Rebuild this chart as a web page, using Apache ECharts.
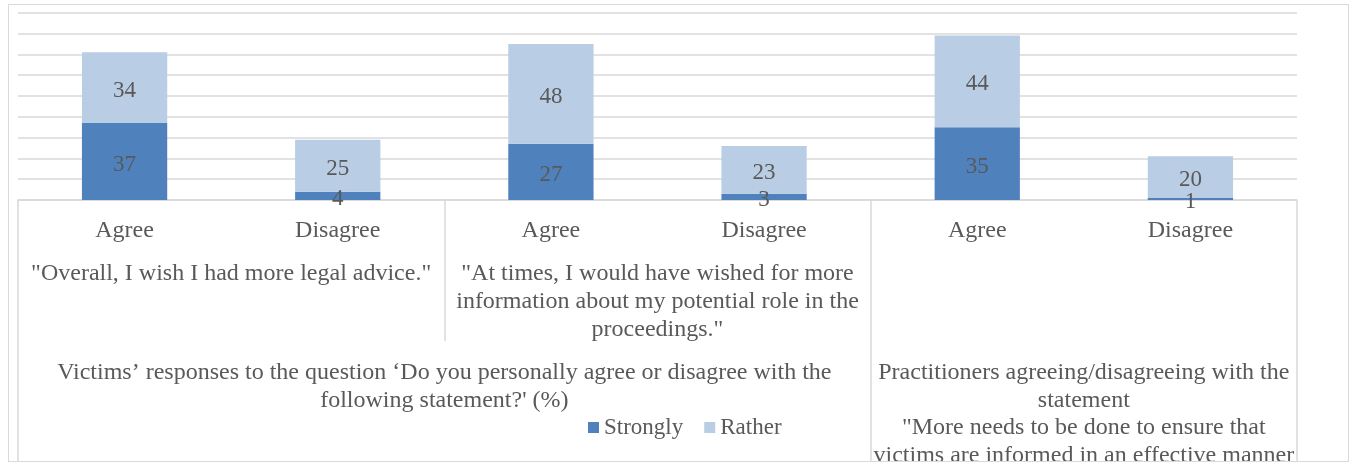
<!DOCTYPE html>
<html>
<head>
<meta charset="utf-8">
<script src="https://cdn.jsdelivr.net/npm/echarts@6/dist/echarts.min.js"></script>
<style>
  html, body { margin: 0; padding: 0; background: #fff; overflow: hidden; width: 100%; height: 100%; }
  #chart { position: absolute; left: 0; top: 0; width: 1349px; height: 463px; }
  #frame { position: absolute; left: 8px; top: 4px; right: 0px; bottom: 1px; border: 1px solid #d9d9d9; pointer-events: none; }
</style>
</head>
<body>
<div id="chart"></div>
<div id="frame"></div>
<script>
// ---- data ----
const categories = ['Agree', 'Disagree', 'Agree', 'Disagree', 'Agree', 'Disagree'];
const strongly = [37, 4, 27, 3, 35, 1];
const rather = [34, 25, 48, 23, 44, 20];
const statements = [
  '"Overall, I wish I had more legal advice."',
  '"At times, I would have wished for more\ninformation about my potential role in the\nproceedings."',
  ''
];
const groupLabels = [
  'Victims\u2019 responses to the question \u2018Do you personally agree or disagree with the\nfollowing statement?\' (%)',
  'Practitioners agreeing/disagreeing with the\nstatement\n"More needs to be done to ensure that\nvictims are informed in an effective manner'
];
const groupLabelAt = [2, 5];     // group centres, in category units
const groupBounds = [0, 4, 6];   // group boundaries, in category units
const seriesNames = ['Strongly', 'Rather'];
const yMin = 0, yMax = 90, yStep = 10;

// ---- styles ----
const FONT = 'Liberation Serif';
const TXT = '#595959';
const LINE = '#d9d9d9';

const chart = echarts.init(document.getElementById('chart'), null, { renderer: 'canvas', width: 1349, height: 463 });

const option = {
  backgroundColor: '#ffffff',
  animation: false,
  textStyle: { fontFamily: FONT },
  grid: { left: 18, right: 52, top: 12.7, bottom: 263, containLabel: false, outerBoundsMode: 'none' },
  legend: {
    data: seriesNames,
    left: 583, top: 411,
    itemWidth: 11, itemHeight: 11, itemGap: 21,
    icon: 'rect',
    textStyle: { fontFamily: FONT, fontSize: 23, color: TXT }
  },
  yAxis: {
    type: 'value', min: yMin, max: yMax, interval: yStep,
    axisLabel: { show: false },
    axisLine: { show: false },
    axisTick: { show: false },
    splitLine: { lineStyle: { color: LINE, width: 1.5 } }
  },
  xAxis: [
    {
      type: 'category', data: categories, position: 'bottom',
      axisLine: { show: true, lineStyle: { color: LINE, width: 1.5 } },
      axisTick: { show: false },
      axisLabel: { interval: 0, fontFamily: FONT, fontSize: 24, color: TXT, margin: 16.5, lineHeight: 28 }
    },
    {
      type: 'category', data: statements, position: 'bottom', gridIndex: 0,
      axisLine: { show: false },
      axisTick: { show: true, length: 141, lineStyle: { color: LINE, width: 1.5 } },
      axisLabel: { interval: 0, fontFamily: FONT, fontSize: 24, color: TXT, margin: 59.5, lineHeight: 28, align: 'center' },
      splitLine: { show: false }
    },
    {
      type: 'value', min: 0, max: 6, position: 'bottom', gridIndex: 0,
      axisLine: { show: false },
      splitLine: { show: false },
      axisTick: { show: true, customValues: groupBounds, length: 261, lineStyle: { color: LINE, width: 1.5 } },
      axisLabel: {
        customValues: groupLabelAt,
        fontFamily: FONT, fontSize: 24, color: TXT, margin: 159, lineHeight: 27.5, align: 'center',
        formatter: function (v) {
          const i = groupLabelAt.indexOf(v);
          return i >= 0 ? groupLabels[i] : '';
        }
      }
    }
  ],
  series: [
    {
      name: seriesNames[0], type: 'bar', stack: 'total', data: strongly,
      xAxisIndex: 0, yAxisIndex: 0,
      barCategoryGap: '60%',
      itemStyle: { color: '#4f81bd' },
      label: { show: true, position: 'inside', offset: [0, 3], fontFamily: FONT, fontSize: 23, color: TXT }
    },
    {
      name: seriesNames[1], type: 'bar', stack: 'total', data: rather,
      xAxisIndex: 0, yAxisIndex: 0,
      barCategoryGap: '60%',
      itemStyle: { color: '#b9cde5' },
      label: { show: true, position: 'inside', offset: [0, 3], fontFamily: FONT, fontSize: 23, color: TXT }
    }
  ]
};
chart.setOption(option);
</script>
</body>
</html>
